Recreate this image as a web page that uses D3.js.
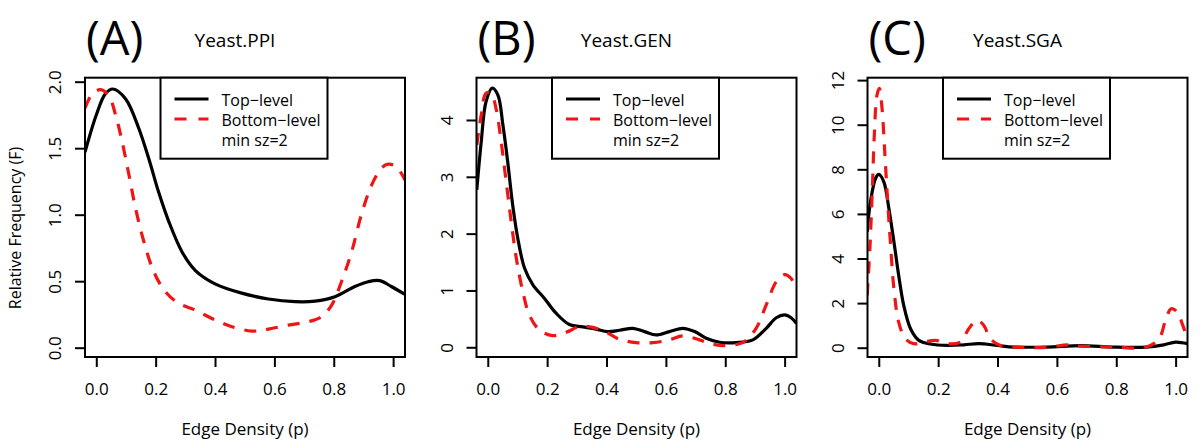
<!DOCTYPE html>
<html>
<head>
<meta charset="utf-8">
<script src="https://cdn.jsdelivr.net/npm/d3@7"></script>
<style>
  body { margin: 0; background: #fff; }
  text { font-family: "Open Sans", "DejaVu Sans", sans-serif; fill: #000; }
</style>
</head>
<body>
<div id="container"></div>
<script>
// density curves, [edge density, relative frequency]
const ppiTop = [[-0.038,1.47],[0,1.75],[0.031,1.91],[0.056,1.945],[0.099,1.87],[0.143,1.65],[0.177,1.42],[0.21,1.17],[0.244,0.95],[0.289,0.72],[0.334,0.58],[0.40,0.48],[0.49,0.41],[0.58,0.366],[0.67,0.346],[0.737,0.35],[0.804,0.383],[0.871,0.46],[0.916,0.496],[0.955,0.504],[0.994,0.46],[1.04,0.40]];
const ppiBottom = [[-0.038,1.80],[-0.013,1.91],[0.015,1.94],[0.043,1.89],[0.065,1.75],[0.087,1.55],[0.11,1.30],[0.132,1.05],[0.16,0.80],[0.194,0.57],[0.233,0.42],[0.278,0.333],[0.334,0.283],[0.40,0.208],[0.457,0.158],[0.524,0.125],[0.58,0.14],[0.647,0.17],[0.714,0.195],[0.759,0.233],[0.793,0.32],[0.826,0.496],[0.86,0.72],[0.893,1.0],[0.927,1.22],[0.961,1.35],[0.983,1.38],[1.011,1.36],[1.04,1.26]];

const genTop = [[-0.037,2.77],[-0.022,3.62],[-0.006,4.32],[0.015,4.56],[0.034,4.44],[0.051,3.91],[0.067,3.27],[0.084,2.50],[0.101,1.92],[0.124,1.39],[0.152,1.10],[0.191,0.86],[0.23,0.60],[0.275,0.40],[0.32,0.36],[0.365,0.32],[0.404,0.276],[0.444,0.30],[0.489,0.334],[0.528,0.276],[0.567,0.217],[0.612,0.276],[0.657,0.334],[0.697,0.276],[0.736,0.158],[0.781,0.088],[0.837,0.082],[0.893,0.13],[0.938,0.334],[0.972,0.52],[1.0,0.57],[1.022,0.52],[1.04,0.42]];
const genBottom = [[-0.037,3.56],[-0.022,4.09],[-0.006,4.47],[0.011,4.47],[0.028,4.2],[0.045,3.62],[0.062,2.91],[0.079,2.21],[0.096,1.57],[0.118,0.98],[0.14,0.57],[0.174,0.305],[0.219,0.205],[0.264,0.264],[0.309,0.364],[0.354,0.35],[0.399,0.264],[0.444,0.14],[0.5,0.082],[0.556,0.082],[0.612,0.13],[0.657,0.2],[0.713,0.13],[0.758,0.053],[0.803,0.03],[0.86,0.088],[0.904,0.334],[0.938,0.745],[0.972,1.155],[1.0,1.28],[1.022,1.21],[1.04,1.0]];

const sgaTop = [[-0.039,5.2],[-0.028,6.54],[-0.011,7.59],[0,7.77],[0.017,7.44],[0.034,6.24],[0.051,4.75],[0.067,3.25],[0.084,1.9],[0.107,0.85],[0.135,0.33],[0.174,0.165],[0.23,0.1],[0.287,0.13],[0.337,0.18],[0.40,0.1],[0.455,0.03],[0.567,0.03],[0.68,0.09],[0.79,0.03],[0.9,0.03],[0.96,0.13],[1.0,0.25],[1.04,0.18]];
const sgaBottom = [[-0.039,2.35],[-0.03,4.45],[-0.022,7.0],[-0.015,9.54],[-0.006,11.33],[0.002,11.63],[0.011,10.73],[0.02,8.79],[0.03,6.54],[0.039,4.75],[0.051,2.65],[0.067,1.15],[0.09,0.4],[0.118,0.18],[0.152,0.25],[0.191,0.33],[0.23,0.18],[0.275,0.25],[0.303,0.85],[0.331,1.23],[0.354,1.0],[0.376,0.4],[0.41,0.1],[0.455,0.03],[0.567,0.015],[0.635,0.13],[0.68,0.075],[0.79,0.03],[0.9,0.03],[0.944,0.4],[0.966,1.23],[0.985,1.75],[1.006,1.6],[1.022,1.08],[1.04,0.4]];

const xTicks = [0, 0.2, 0.4, 0.6, 0.8, 1.0];
const ppiYTicks = [0, 0.5, 1.0, 1.5, 2.0];
const genYTicks = [0, 1, 2, 3, 4];
const sgaYTicks = [0, 2, 4, 6, 8, 10, 12];

const panelLetters = ["(A)", "(B)", "(C)"];
const panelNames = ["Yeast.PPI", "Yeast.GEN", "Yeast.SGA"];
const legendLabels = ["Top\u2212level", "Bottom\u2212level", "min sz=2"];

const panels = [
  { left: 85,    top: ppiTop, bottom: ppiBottom, yTicks: ppiYTicks, yDom: [-0.07, 2.03],  fmt: d3.format(".1f") },
  { left: 476.5, top: genTop, bottom: genBottom, yTicks: genYTicks, yDom: [-0.171, 4.744], fmt: d3.format("d") },
  { left: 867.5, top: sgaTop, bottom: sgaBottom, yTicks: sgaYTicks, yDom: [-0.417, 12.108], fmt: d3.format("d") }
];

const W = 1200, H = 443;
const boxTop = 77.7, boxBottom = 357, boxW = 320;
const red = "#f01414";

const svg = d3.select("#container").append("svg")
  .attr("width", W).attr("height", H);

panels.forEach((p, i) => {
  const x = d3.scaleLinear().domain([-0.038, 1.04]).range([p.left, p.left + boxW]);
  const y = d3.scaleLinear().domain(p.yDom).range([boxBottom, boxTop]);

  const g = svg.append("g");

  // clip curves to plot region
  g.append("clipPath").attr("id", "clip" + i)
    .append("rect")
    .attr("x", p.left).attr("y", boxTop)
    .attr("width", boxW).attr("height", boxBottom - boxTop);

  const line = d3.line()
    .x(d => x(d[0]))
    .y(d => y(d[1]))
    .curve(d3.curveCatmullRom.alpha(0.5));

  const curves = g.append("g").attr("clip-path", `url(#clip${i})`);
  curves.append("path").datum(p.top)
    .attr("d", line).attr("fill", "none")
    .attr("stroke", "#000").attr("stroke-width", 3.2);
  curves.append("path").datum(p.bottom)
    .attr("d", line).attr("fill", "none")
    .attr("stroke", red).attr("stroke-width", 3.2)
    .attr("stroke-dasharray", "12,10");

  // x axis
  const xa = g.append("g")
    .attr("transform", `translate(0,${boxBottom})`)
    .call(d3.axisBottom(x).tickValues(xTicks).tickFormat(d3.format(".1f")).tickSize(10).tickPadding(16));
  xa.select(".domain").remove();
  xa.selectAll("line").attr("stroke", "#000").attr("stroke-width", 2);
  xa.selectAll("text").style("font-size", "17px").attr("fill", "#000");

  // y axis, labels parallel to axis
  const ya = g.append("g")
    .attr("transform", `translate(${p.left},0)`)
    .call(d3.axisLeft(y).tickValues(p.yTicks).tickFormat(p.fmt).tickSize(10));
  ya.select(".domain").remove();
  ya.selectAll("line").attr("stroke", "#000").attr("stroke-width", 2);
  ya.selectAll("text")
    .attr("x", null).attr("dy", null)
    .attr("transform", "translate(-24,0) rotate(-90)")
    .attr("text-anchor", "middle")
    .style("font-size", "17px").attr("fill", "#000");

  // frame
  g.append("rect")
    .attr("x", p.left).attr("y", boxTop)
    .attr("width", boxW).attr("height", boxBottom - boxTop)
    .attr("fill", "none").attr("stroke", "#000").attr("stroke-width", 2);

  // legend
  const lx = p.left + 75.5;
  const leg = g.append("g");
  leg.append("rect")
    .attr("x", lx).attr("y", boxTop)
    .attr("width", 167).attr("height", 81)
    .attr("fill", "#fff").attr("stroke", "#000").attr("stroke-width", 2);
  leg.append("line")
    .attr("x1", lx + 14).attr("x2", lx + 48).attr("y1", 99).attr("y2", 99)
    .attr("stroke", "#000").attr("stroke-width", 3.2);
  leg.append("line")
    .attr("x1", lx + 14).attr("x2", lx + 48).attr("y1", 119).attr("y2", 119)
    .attr("stroke", red).attr("stroke-width", 3.2)
    .attr("stroke-dasharray", "12,12");
  leg.selectAll("text.lab")
    .data(legendLabels)
    .enter().append("text")
    .attr("class", "lab")
    .attr("x", lx + 61)
    .attr("y", (d, k) => 105.5 + k * 20)
    .style("font-size", "16px")
    .text(d => d);

  // titles
  g.append("text")
    .attr("x", p.left + 1).attr("y", 55)
    .style("font-size", "47px")
    .text(panelLetters[i]);
  g.append("text")
    .attr("x", p.left + boxW / 2 - 10).attr("y", 46.5)
    .attr("text-anchor", "middle")
    .style("font-size", "19px")
    .text(panelNames[i]);

  g.append("text")
    .attr("x", p.left + boxW / 2).attr("y", 435)
    .attr("text-anchor", "middle")
    .style("font-size", "17px")
    .text("Edge Density (p)");
});

svg.append("text")
  .attr("transform", "translate(21,228) rotate(-90)")
  .attr("text-anchor", "middle")
  .style("font-size", "16px")
  .text("Relative Frequency (F)");
</script>
</body>
</html>
